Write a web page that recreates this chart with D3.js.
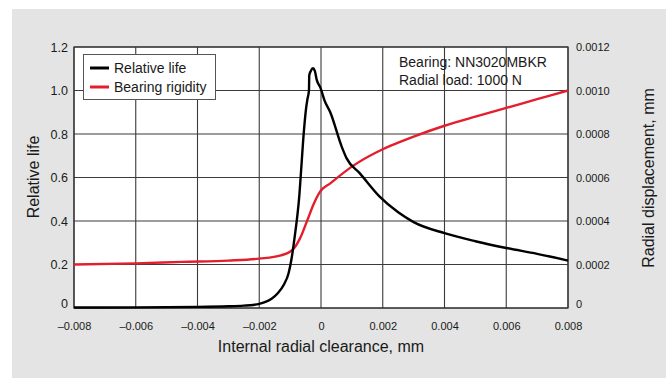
<!DOCTYPE html>
<html><head><meta charset="utf-8">
<script src="https://cdn.jsdelivr.net/npm/d3@7"></script>
<style>html,body{margin:0;padding:0;background:#fff;} svg text{font-family:"Liberation Sans",Arial,Helvetica,sans-serif;fill:#1a1a1a;}</style>
</head><body>
<svg id="c" width="666" height="378"></svg>
<script>
// Data
const lifeX = [-0.008,-0.006,-0.004,-0.003,-0.0025,-0.0022,-0.002,-0.0018,-0.0016,-0.0014,-0.0012,-0.00105,-0.00095,-0.00085,-0.00077,-0.0007,-0.00066,-0.00055,-0.00049,-0.00044,-0.00039,-0.00038,-0.00033,-0.00026,-0.0002,-0.00014,-0.00001,0.00011,0.0003,0.00067,0.00083,0.00126,0.0019,0.0025,0.003,0.004,0.005,0.006,0.007,0.008];
const lifeY = [0.002,0.003,0.005,0.008,0.011,0.014,0.019,0.028,0.043,0.068,0.108,0.16,0.23,0.33,0.42,0.52,0.6,0.82,0.91,0.96,1.0,1.07,1.09,1.102,1.09,1.05,1.01,0.956,0.9,0.742,0.688,0.619,0.512,0.44,0.395,0.344,0.307,0.276,0.249,0.218];
const rigX = [-0.008,-0.006,-0.0045,-0.003,-0.002,-0.0013,-0.0009,-0.00068,-0.00046,-0.00025,-0.00003,0.0003,0.001,0.002,0.0025,0.003,0.004,0.005,0.006,0.007,0.008];
const rigY = [0.0002,0.000205,0.000212,0.000218,0.000227,0.000242,0.000271,0.00032,0.000397,0.000474,0.000535,0.000573,0.00065,0.00073,0.00076,0.000788,0.000838,0.00088,0.00092,0.00096,0.001];
const xTicks = [-0.008,-0.006,-0.004,-0.002,0,0.002,0.004,0.006,0.008];
const xTickLabels = ["–0.008","–0.006","–0.004","–0.002","0","0.002","0.004","0.006","0.008"];
const yLTicks = [0,0.2,0.4,0.6,0.8,1.0,1.2];
const yLTickLabels = ["0","0.2","0.4","0.6","0.8","1.0","1.2"];
const yRTicks = [0,0.0002,0.0004,0.0006,0.0008,0.0010,0.0012];
const yRTickLabels = ["0","0.0002","0.0004","0.0006","0.0008","0.0010","0.0012"];
const legendLabels = ["Relative life","Bearing rigidity"];
const colors = ["#000000","#e31e2d"];
const notes = ["Bearing: NN3020MBKR","Radial load: 1000 N"];

const svg = d3.select("#c");
const L=74,R=568,T=47,B=308;
const x = d3.scaleLinear().domain([-0.008,0.008]).range([L,R]);
const yL = d3.scaleLinear().domain([0,1.2]).range([B,T]);
const yR = d3.scaleLinear().domain([0,0.0012]).range([B,T]);

svg.append("rect").attr("x",12).attr("y",9).attr("width",654).attr("height",369).attr("fill","#e3e4e3");
svg.append("rect").attr("x",L).attr("y",T).attr("width",R-L).attr("height",B-T).attr("fill","#fff");

// grid
const g = svg.append("g");
g.selectAll(".vg").data(xTicks).join("line")
  .attr("x1",d=>x(d)).attr("x2",d=>x(d)).attr("y1",T).attr("y2",B)
  .attr("stroke","#3a3a3a").attr("stroke-width",1.1);
g.selectAll(".hg").data(yLTicks).join("line")
  .attr("x1",L).attr("x2",R).attr("y1",d=>yL(d)).attr("y2",d=>yL(d))
  .attr("stroke","#3a3a3a").attr("stroke-width",1.1);
svg.append("rect").attr("x",L).attr("y",T).attr("width",R-L).attr("height",B-T)
  .attr("fill","none").attr("stroke","#333").attr("stroke-width",1.2);

// axes via d3 axis, styled
const ax = svg.append("g").attr("transform",`translate(0,${B})`)
  .call(d3.axisBottom(x).tickValues(xTicks).tickFormat((d,i)=>xTickLabels[i]).tickSize(0).tickPadding(14));
ax.select(".domain").remove();
ax.selectAll("text").attr("font-size",11).style("font-family","Liberation Sans, Arial, sans-serif").attr("fill","#1a1a1a");

const al = svg.append("g").attr("transform",`translate(${L},0)`)
  .call(d3.axisLeft(yL).tickValues(yLTicks).tickFormat((d,i)=>yLTickLabels[i]).tickSize(0).tickPadding(6));
al.select(".domain").remove();
al.selectAll("text").attr("font-size",12.5).style("font-family","Liberation Sans, Arial, sans-serif").attr("fill","#1a1a1a")
  .attr("dy",(d)=> d===0 ? "-0.08em" : "0.32em");

const ar = svg.append("g").attr("transform",`translate(${R},0)`)
  .call(d3.axisRight(yR).tickValues(yRTicks).tickFormat((d,i)=>yRTickLabels[i]).tickSize(0).tickPadding(8));
ar.select(".domain").remove();
ar.selectAll("text").attr("font-size",11).style("font-family","Liberation Sans, Arial, sans-serif").attr("fill","#1a1a1a")
  .attr("dy",(d)=> d===0 ? "-0.08em" : "0.32em");

// curves
const lifeData = lifeX.map((v,i)=>[v,lifeY[i]]);
const rigData = rigX.map((v,i)=>[v,rigY[i]]);
svg.append("path").datum(rigData)
  .attr("d",d3.line().x(d=>x(d[0])).y(d=>yR(d[1])).curve(d3.curveMonotoneX))
  .attr("fill","none").attr("stroke",colors[1]).attr("stroke-width",2.4);
svg.append("path").datum(lifeData)
  .attr("d",d3.line().x(d=>x(d[0])).y(d=>yL(d[1])).curve(d3.curveMonotoneX))
  .attr("fill","none").attr("stroke",colors[0]).attr("stroke-width",2.4).attr("stroke-linejoin","round");

// legend
svg.append("rect").attr("x",83.5).attr("y",54.5).attr("width",132).attr("height",45)
  .attr("fill","#fff").attr("stroke","#555").attr("stroke-width",1);
legendLabels.forEach((t,i)=>{
  const yy = 68 + i*19;
  svg.append("line").attr("x1",90).attr("x2",109).attr("y1",yy).attr("y2",yy)
    .attr("stroke",colors[i]).attr("stroke-width",3);
  svg.append("text").attr("x",114).attr("y",yy).attr("dy","0.35em").attr("font-size",14).text(t);
});

// notes
notes.forEach((t,i)=>{
  svg.append("text").attr("x",399).attr("y",62+i*18).attr("dy","0.35em").attr("font-size",14).text(t);
});

// axis titles
svg.append("text").attr("x",(L+R)/2).attr("y",346).attr("dy","0.35em").attr("text-anchor","middle")
  .attr("font-size",16).text("Internal radial clearance, mm");
svg.append("text").attr("transform","translate(33,177) rotate(-90)").attr("dy","0.35em").attr("text-anchor","middle")
  .attr("font-size",16).text("Relative life");
svg.append("text").attr("transform","translate(648,178) rotate(-90)").attr("dy","0.35em").attr("text-anchor","middle")
  .attr("font-size",16).text("Radial displacement, mm");
</script>
</body></html>
